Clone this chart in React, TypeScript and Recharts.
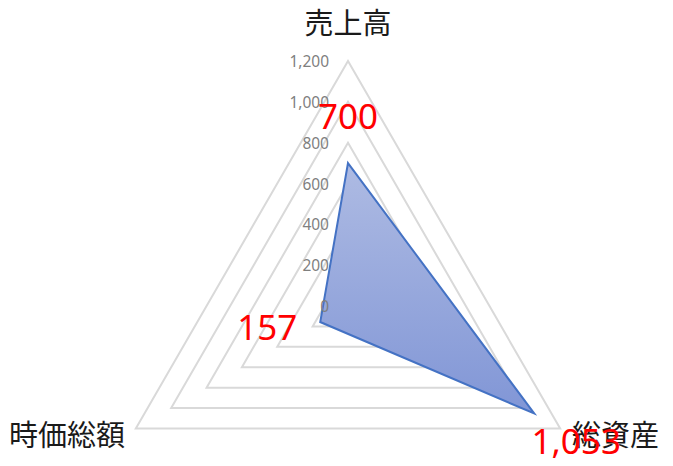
import React from 'react';
import { RadarChart, Radar, PolarGrid, PolarAngleAxis, PolarRadiusAxis } from 'recharts';

document.body.style.margin = '0';

const categories = ['売上高', '総資産', '時価総額'];
const values = [700, 1053, 157];
const radiusTicks = [0, 200, 400, 600, 800, 1000, 1200];

const data = categories.map((name, i) => ({ name, value: values[i] }));

const CX = 348;
const CY = 306;

const AngleTick = (props: any) => {
  const { x, y, payload } = props;
  const dx = x - CX;
  let anchor: 'middle' | 'start' | 'end' = 'middle';
  let tx = x;
  let ty = y;
  if (dx > 5) {
    anchor = 'start';
    tx = x + 5;
  } else if (dx < -5) {
    anchor = 'end';
    tx = x - 4;
  } else {
    ty = y - 32;
  }
  return (
    <text
      x={tx}
      y={ty}
      textAnchor={anchor}
      dominantBaseline="central"
      fill="#1a1a1a"
      fontSize={29}
      fontFamily="'Noto Sans CJK JP', sans-serif"
    >
      {payload.value}
    </text>
  );
};

const RadiusTick = (props: any) => {
  const { x, y, payload } = props;
  return (
    <text
      x={x - 19}
      y={y}
      textAnchor="end"
      dominantBaseline="central"
      fill="#7F7F7F"
      fontSize={15.5}
      fontFamily="'Noto Sans', sans-serif"
    >
      {payload.value.toLocaleString('en-US')}
    </text>
  );
};

// label offsets follow the spoke direction, nudged a bit like the original
const labelShift = [
  [0, -48],
  [42, 27],
  [-53, 4],
];

const ValueLabel = (props: any) => {
  const { x, y, index, value } = props;
  const [ox, oy] = labelShift[index] || [0, 0];
  return (
    <text
      x={x + ox}
      y={y + oy}
      textAnchor="middle"
      dominantBaseline="central"
      fill="#FF0000"
      fontSize={35}
      fontFamily="'Noto Sans', sans-serif"
    >
      {Number(value).toLocaleString('en-US')}
    </text>
  );
};

export default function App() {
  return (
    <div style={{ width: 673, height: 466, background: '#fff' }}>
      <RadarChart width={673} height={466} data={data} cx={CX} cy={CY} outerRadius={245}>
        <defs>
          <linearGradient id="radarFill" x1="0" y1="0" x2="0" y2="1">
            <stop offset="0%" stopColor="#AEBBE3" />
            <stop offset="100%" stopColor="#8196D6" />
          </linearGradient>
        </defs>
        <PolarGrid gridType="polygon" radialLines={false} stroke="#D9D9D9" strokeWidth={2} />
        <PolarAngleAxis dataKey="name" tick={<AngleTick />} tickLine={false} axisLine={false} />
        <PolarRadiusAxis
          angle={90}
          domain={[0, 1200]}
          ticks={radiusTicks}
          tick={<RadiusTick />}
          axisLine={false}
          tickLine={false}
        />
        <Radar
          dataKey="value"
          stroke="#4472C4"
          strokeWidth={2}
          fill="url(#radarFill)"
          fillOpacity={1}
          isAnimationActive={false}
          label={<ValueLabel />}
        />
      </RadarChart>
    </div>
  );
}
